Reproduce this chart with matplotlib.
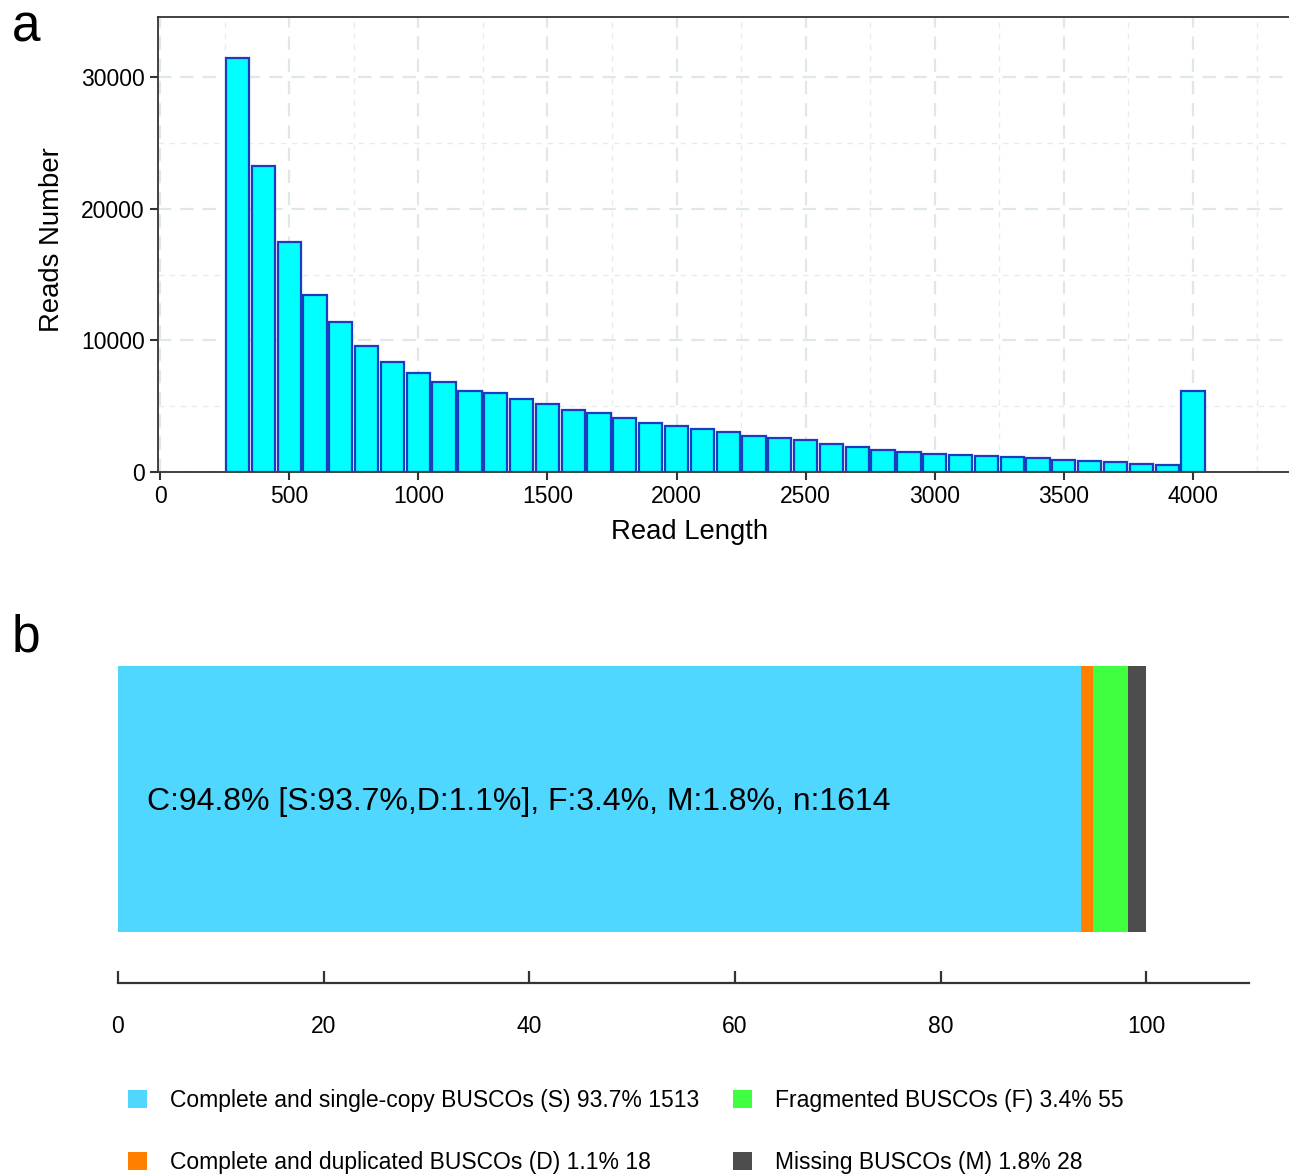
import matplotlib
matplotlib.use("Agg")
import matplotlib.pyplot as plt
from matplotlib.patches import Patch
from matplotlib.ticker import MultipleLocator

plt.rcParams["font.family"] = ["Liberation Sans", "DejaVu Sans"]

# panel a: read length histogram
read_len = list(range(300, 4100, 100))
reads_num = [31450, 23280, 17450, 13480, 11420, 9600, 8330, 7520, 6810, 6180,
             6000, 5550, 5190, 4680, 4490, 4110, 3700, 3530, 3270, 3020,
             2770, 2560, 2410, 2110, 1930, 1670, 1500, 1400, 1290, 1220,
             1130, 1040, 940, 840, 740, 640, 530, 6140]

# panel b: BUSCO summary
busco_labels = ["Complete and single-copy BUSCOs (S) 93.7% 1513",
                "Complete and duplicated BUSCOs (D) 1.1% 18",
                "Fragmented BUSCOs (F) 3.4% 55",
                "Missing BUSCOs (M) 1.8% 28"]
busco_pct = [93.7, 1.1, 3.4, 1.8]
busco_colors = ["#50D7FF", "#FF7F00", "#40FF40", "#4D4D4D"]
busco_text = "C:94.8% [S:93.7%,D:1.1%], F:3.4%, M:1.8%, n:1614"

W, H = 1289, 1174
fig = plt.figure(figsize=(W / 100, H / 100), dpi=100)

# ---- panel a
ax = fig.add_axes([158 / W, 1 - 472 / H, (1289 - 158) / W, (472 - 17) / H])
ax.bar(read_len, reads_num, width=90, color="#00FFFF", edgecolor="#1A3CBF",
       linewidth=1.6, zorder=3)
ax.set_xlim(-8, 4372)
ax.set_ylim(0, 34590)
ax.xaxis.set_major_locator(MultipleLocator(500))
ax.xaxis.set_minor_locator(MultipleLocator(250))
ax.yaxis.set_major_locator(MultipleLocator(10000))
ax.yaxis.set_minor_locator(MultipleLocator(5000))
ax.grid(True, which="major", color="#E0E7E7", lw=1.6, ls=(0, (6, 4)))
ax.grid(True, which="minor", color="#E6ECEC", lw=1.0, ls=(0, (4, 4)))
ax.set_axisbelow(True)
ax.tick_params(which="major", direction="out", length=6, width=1.5,
               labelsize=16.5, color="#333333")
ax.tick_params(which="minor", length=0)
ax.spines["right"].set_visible(False)
for s in ["left", "top", "bottom"]:
    ax.spines[s].set_color("#333333")
    ax.spines[s].set_linewidth(1.3)
ax.set_xlabel("Read Length", fontsize=19.8)
ax.xaxis.set_label_coords((690 - 158) / 1131, -(519 - 472) / 455)
ax.set_ylabel("Reads Number", fontsize=19.8)
ax.yaxis.set_label_coords((65 - 158) / 1131, (472 - 240) / 455)

# ---- panel b
bx = fig.add_axes([118 / W, 1 - 983 / H, 1131 / W, 333 / H])
left = 0
for pct, col in zip(busco_pct, busco_colors):
    bx.barh(0.5526, pct, left=left, height=0.7988, color=col, linewidth=0)
    left += pct
bx.set_xlim(0, 110)
bx.set_ylim(0, 1)
bx.set_xticks([0, 20, 40, 60, 80, 100])
bx.set_yticks([])
for s in ["left", "right", "top"]:
    bx.spines[s].set_visible(False)
bx.spines["bottom"].set_color("#333333")
bx.spines["bottom"].set_linewidth(1.6)
bx.tick_params(axis="x", direction="in", length=9, width=1.6, pad=23,
               labelsize=16.5, color="#333333")
bx.text(2.8, 0.543, busco_text, fontsize=23, va="center", ha="left")

handles = [Patch(facecolor=c, edgecolor="none") for c in busco_colors]
fig.legend(handles, busco_labels, ncol=2, loc="upper left",
           bbox_to_anchor=(128 / W, 1 - 1089 / H), frameon=False,
           fontsize=16.5, handlelength=0.85, handleheight=0.85,
           handletextpad=1.0, columnspacing=1.45, labelspacing=1.7,
           borderaxespad=0, borderpad=0)

fig.text(12 / W, 1 - 42 / H, "a", fontsize=37, ha="left", va="baseline")
fig.text(12 / W, 1 - 652 / H, "b", fontsize=37, ha="left", va="baseline")

fig.savefig("out.png", dpi=100)
